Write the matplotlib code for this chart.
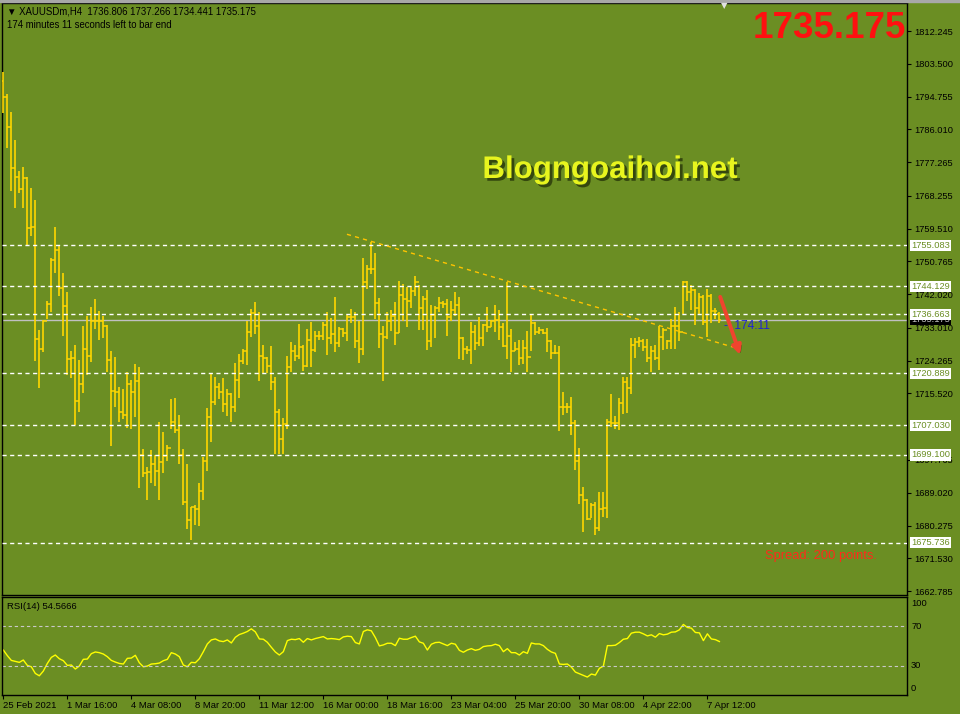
import matplotlib
matplotlib.use("Agg")
import matplotlib.pyplot as plt
import matplotlib.patheffects as pe
from matplotlib.patches import Rectangle
import numpy as np

plt.rcParams["font.family"] = ["Liberation Sans", "DejaVu Sans"]

# XAUUSDm H4 bars (25 Feb 2021 .. 7 Apr 2021)
highs = [
    1801.3, 1795.4, 1790.6, 1783.2, 1774.9, 1776.0, 1773.3, 1770.4, 1767.1, 1732.4,
    1735.1, 1740.2, 1751.7, 1759.9, 1755.0, 1747.6, 1742.6, 1726.9, 1728.4, 1724.4,
    1733.5, 1736.2, 1738.6, 1740.7, 1737.5, 1736.2, 1733.8, 1726.9, 1725.3, 1717.2,
    1716.7, 1721.2, 1719.1, 1723.4, 1722.6, 1700.7, 1696.0, 1700.4, 1699.2, 1708.0,
    1705.3, 1701.8, 1714.1, 1714.4, 1709.8, 1700.8, 1696.8, 1685.3, 1685.8, 1691.7,
    1698.6, 1711.7, 1720.8, 1720.0, 1718.4, 1719.6, 1716.8, 1715.7, 1723.7, 1726.1,
    1727.5, 1734.8, 1738.1, 1739.9, 1737.3, 1728.4, 1725.2, 1728.2, 1719.9, 1711.4,
    1708.9, 1725.5, 1729.2, 1728.4, 1734.0, 1728.4, 1732.7, 1734.6, 1732.2, 1732.2,
    1734.6, 1737.3, 1735.6, 1741.3, 1733.3, 1733.0, 1736.4, 1738.1, 1737.3, 1734.8,
    1751.7, 1749.8, 1755.9, 1753.0, 1741.0, 1733.5, 1737.3, 1737.8, 1739.9, 1745.5,
    1744.7, 1743.8, 1744.2, 1746.9, 1744.5, 1741.5, 1743.1, 1739.1, 1738.8, 1741.3,
    1740.2, 1740.7, 1740.2, 1742.6, 1741.3, 1730.5, 1728.2, 1734.6, 1733.8, 1735.9,
    1734.0, 1738.6, 1735.1, 1739.2, 1737.8, 1734.3, 1745.3, 1732.6, 1729.2, 1729.7,
    1729.8, 1732.1, 1736.7, 1734.6, 1733.2, 1732.6, 1732.9, 1729.8, 1728.4, 1728.2,
    1715.9, 1713.1, 1714.6, 1708.4, 1701.0, 1690.5, 1687.4, 1686.2, 1686.5, 1689.1,
    1689.3, 1708.7, 1715.4, 1709.6, 1714.4, 1719.9, 1720.0, 1730.2, 1730.3, 1730.5,
    1730.0, 1730.0, 1728.1, 1728.5, 1733.5, 1733.0, 1729.8, 1735.3, 1738.5, 1737.3,
    1745.5, 1745.5, 1744.5, 1743.4, 1742.3, 1741.7, 1743.3, 1742.1, 1738.2, 1737.266,
]
lows = [
    1790.3, 1781.1, 1769.6, 1765.1, 1769.1, 1765.1, 1755.1, 1757.6, 1724.3, 1717.0,
    1726.7, 1735.3, 1737.3, 1747.7, 1741.6, 1730.9, 1720.5, 1719.7, 1707.1, 1710.7,
    1715.6, 1720.4, 1724.0, 1732.8, 1729.9, 1730.4, 1721.3, 1701.6, 1712.0, 1708.0,
    1708.8, 1706.4, 1706.1, 1709.3, 1690.4, 1693.3, 1687.2, 1691.7, 1690.9, 1687.2,
    1694.4, 1697.6, 1706.1, 1705.0, 1696.8, 1685.7, 1679.4, 1676.5, 1680.5, 1680.2,
    1687.2, 1694.9, 1702.6, 1712.5, 1714.1, 1710.7, 1709.6, 1708.0, 1710.7, 1714.4,
    1723.5, 1723.2, 1730.7, 1731.5, 1718.9, 1720.9, 1720.9, 1716.5, 1699.4, 1699.4,
    1699.4, 1706.0, 1721.2, 1724.3, 1724.7, 1721.5, 1722.7, 1722.7, 1726.7, 1729.8,
    1729.8, 1725.8, 1728.7, 1726.6, 1727.8, 1730.7, 1729.5, 1734.2, 1727.7, 1723.7,
    1725.9, 1743.5, 1747.4, 1735.5, 1727.7, 1718.9, 1730.1, 1732.2, 1728.5, 1731.6,
    1734.9, 1733.3, 1738.3, 1741.5, 1732.4, 1732.4, 1727.1, 1727.8, 1730.3, 1737.3,
    1738.2, 1730.9, 1734.8, 1736.2, 1724.7, 1724.4, 1726.0, 1723.4, 1727.1, 1728.2,
    1728.2, 1731.9, 1733.2, 1732.0, 1729.8, 1727.8, 1724.8, 1721.3, 1726.8, 1723.1,
    1723.4, 1721.3, 1726.8, 1731.1, 1731.4, 1731.4, 1726.5, 1724.7, 1726.0, 1705.6,
    1709.8, 1710.4, 1704.5, 1695.2, 1686.1, 1678.5, 1681.7, 1682.4, 1677.8, 1678.9,
    1682.6, 1682.4, 1706.6, 1706.0, 1705.8, 1710.1, 1710.3, 1715.4, 1724.9, 1727.9,
    1726.9, 1724.0, 1721.3, 1724.4, 1721.8, 1727.2, 1727.3, 1727.3, 1727.5, 1729.4,
    1736.6, 1740.1, 1737.8, 1733.8, 1736.6, 1733.8, 1730.7, 1734.2, 1735.4, 1734.441,
]
closes = [
    1794.6, 1786.5, 1775.6, 1773.2, 1770.0, 1772.9, 1759.6, 1759.9, 1730.0, 1727.3,
    1734.8, 1739.3, 1751.1, 1753.7, 1743.6, 1738.8, 1724.6, 1725.1, 1713.4, 1718.0,
    1727.3, 1725.4, 1734.8, 1734.8, 1734.8, 1733.4, 1724.4, 1716.1, 1715.8, 1710.5,
    1709.7, 1718.0, 1715.8, 1718.8, 1699.2, 1694.4, 1694.5, 1696.6, 1694.9, 1697.1,
    1698.9, 1701.0, 1707.9, 1705.8, 1699.2, 1686.5, 1681.7, 1685.2, 1684.7, 1689.5,
    1697.5, 1709.2, 1713.2, 1717.2, 1715.9, 1712.7, 1715.4, 1711.9, 1719.2, 1724.1,
    1726.9, 1731.8, 1736.9, 1733.4, 1725.4, 1725.0, 1722.8, 1718.5, 1710.6, 1703.3,
    1707.3, 1722.6, 1726.8, 1725.4, 1727.8, 1722.8, 1729.8, 1727.1, 1730.9, 1730.8,
    1733.7, 1730.2, 1731.3, 1728.9, 1732.7, 1731.6, 1735.8, 1735.8, 1729.4, 1727.3,
    1745.2, 1748.6, 1748.8, 1739.6, 1731.3, 1730.5, 1734.8, 1736.2, 1731.6, 1741.7,
    1740.6, 1740.1, 1742.8, 1745.2, 1738.2, 1740.6, 1729.4, 1736.4, 1738.2, 1739.6,
    1739.3, 1735.8, 1737.7, 1739.0, 1730.2, 1727.3, 1727.0, 1731.8, 1728.9, 1730.2,
    1733.8, 1733.2, 1734.8, 1735.1, 1733.2, 1728.2, 1730.8, 1726.8, 1727.3, 1724.9,
    1727.6, 1725.2, 1734.2, 1731.9, 1732.5, 1731.6, 1729.5, 1726.3, 1726.3, 1711.9,
    1711.9, 1711.8, 1707.5, 1697.4, 1688.3, 1687.1, 1682.1, 1685.7, 1679.5, 1684.7,
    1684.9, 1708.0, 1707.7, 1707.5, 1712.9, 1718.5, 1716.9, 1728.4, 1729.2, 1729.4,
    1728.0, 1724.9, 1726.8, 1724.9, 1730.6, 1732.4, 1729.6, 1733.5, 1733.5, 1731.8,
    1745.3, 1742.5, 1743.1, 1738.3, 1741.2, 1734.6, 1741.5, 1737.4, 1737.4, 1735.175,
]
first_open = 1799.0
last_open = 1736.806

rsi = [
    45.9, 40.2, 35.3, 34.3, 33.3, 35.7, 30.2, 28.8, 22.0, 19.6,
    24.4, 32.2, 38.4, 40.8, 37.0, 35.0, 30.2, 30.6, 26.5, 29.6,
    36.4, 36.7, 42.2, 43.9, 43.2, 41.8, 39.1, 35.3, 33.6, 32.2,
    31.6, 37.4, 37.7, 40.5, 32.9, 28.8, 29.5, 31.6, 31.9, 32.6,
    35.0, 36.4, 43.2, 41.8, 39.1, 30.6, 28.8, 33.3, 32.9, 37.0,
    44.2, 52.1, 56.2, 57.2, 55.2, 54.5, 56.2, 53.1, 58.9, 61.7,
    63.1, 64.8, 67.5, 64.4, 57.2, 56.9, 53.8, 48.7, 43.9, 40.8,
    44.2, 55.5, 56.9, 56.5, 57.6, 53.8, 57.6, 56.2, 57.6, 58.6,
    59.6, 57.2, 57.6, 57.2, 56.5, 59.3, 60.0, 59.6, 53.5, 52.1,
    64.8, 66.5, 65.5, 58.6, 50.1, 51.1, 52.8, 52.8, 50.4, 57.9,
    56.9, 56.9, 58.6, 60.0, 54.2, 52.8, 45.9, 51.8, 53.5, 53.8,
    52.1, 50.4, 52.8, 51.8, 45.6, 43.6, 45.9, 47.3, 45.6, 46.6,
    49.4, 50.1, 50.4, 51.8, 50.4, 44.2, 47.3, 43.2, 43.2, 40.8,
    44.2, 42.5, 53.1, 52.1, 52.1, 50.4, 46.6, 43.9, 42.5, 31.6,
    31.2, 31.6, 28.5, 23.4, 21.7, 20.0, 18.3, 21.4, 20.3, 27.2,
    29.5, 50.4, 50.4, 50.8, 53.5, 56.9, 57.6, 63.1, 64.1, 64.1,
    62.4, 60.3, 61.4, 59.0, 62.7, 61.4, 62.1, 64.1, 64.4, 66.5,
    72.0, 68.9, 68.2, 63.8, 63.4, 55.5, 62.4, 57.2, 56.5, 54.57,
]

date_labels = ["25 Feb 2021", "1 Mar 16:00", "4 Mar 08:00", "8 Mar 20:00",
               "11 Mar 12:00", "16 Mar 00:00", "18 Mar 16:00", "23 Mar 04:00",
               "25 Mar 20:00", "30 Mar 08:00", "4 Apr 22:00", "7 Apr 12:00"]
# 1706.775 sits fully under the 1707.030 line label, so it is left out
price_ticks = [1812.245, 1803.500, 1794.755, 1786.010, 1777.265, 1768.255,
               1759.510, 1750.765, 1742.020, 1733.010, 1724.265, 1715.520,
               1697.765, 1689.020, 1680.275, 1671.530, 1662.785]
hlevels = [1755.083, 1744.129, 1736.663, 1720.889, 1707.030, 1699.100, 1675.736]
current = 1735.175

# user drawn objects (bar index, price)
trend_start, trend_end = (85.9, 1758.0), (182.4, 1727.9)
arrow_start, arrow_end = (179.2, 1741.3), (184.2, 1725.8)

BG = "#6B8E23"
BAR = "#FFD700"

idx = np.arange(len(closes))
# open of each H4 bar taken as the previous close
opens = [first_open] + closes[:-1]
opens[-1] = last_open

fig = plt.figure(figsize=(9.6, 7.14), dpi=100, facecolor=BG)
W, H = 960.0, 714.0
ax = fig.add_axes([2 / W, 1 - 595 / H, 905 / W, 592 / H], facecolor=BG)
ax2 = fig.add_axes([2 / W, 1 - 695 / H, 905 / W, 98 / H], facecolor=BG)

xlim = (-0.33, 225.9)

# price bars
ax.vlines(idx, lows, highs, color=BAR, lw=1.2, zorder=3)
ax.hlines(opens, idx - 0.5, idx, color=BAR, lw=1.1, zorder=3)
ax.hlines(closes, idx, idx + 0.5, color=BAR, lw=1.1, zorder=3)

for lv in hlevels:
    ax.axhline(lv, color="white", lw=1.0, ls=(0, (3, 2.5)), zorder=4)
ax.axhline(current, color="#C0C0C0", lw=1.0, zorder=2)

ax.plot([trend_start[0], trend_end[0]], [trend_start[1], trend_end[1]],
        color="#FFC400", lw=1.0, ls=(0, (3, 3)), zorder=4)

ax.annotate("", xy=arrow_end, xytext=arrow_start,
            arrowprops=dict(arrowstyle="-|>", color="#F0442E", lw=2.8,
                            mutation_scale=13, shrinkA=0, shrinkB=0,
                            path_effects=[pe.withSimplePatchShadow(offset=(1.5, -1.5), shadow_rgbFace="#2A3A08", alpha=0.6)]),
            zorder=6)
ax.text(180.2, 1733.5, "-  174:11", color="#1E22D8", fontsize=8.5, va="center", ha="left", zorder=6)

ax.set_xlim(*xlim)
ax.set_ylim(1661.73, 1819.72)
ax.set_xticks([])
ax.yaxis.tick_right()
ax.set_yticks(price_ticks)
ax.set_yticklabels([f"{t:.3f}" for t in price_ticks])
ax.tick_params(axis="y", direction="out", length=3, width=0.8, pad=2,
               labelsize=6.7, colors="black")
for s in ax.spines.values():
    s.set_color("black")
    s.set_linewidth(1.0)

# price labels of the lines on the right scale
yt = ax.get_yaxis_transform()
ax.text(1.0045, current, f"{current:.3f}", transform=yt, va="center", ha="left",
        fontsize=6.7, color="#C0C0C0", clip_on=False, zorder=7,
        bbox=dict(boxstyle="square,pad=0.12", fc="black", ec="none"))
for lv in hlevels:
    ax.text(1.0045, lv, f"{lv:.3f}", transform=yt, va="center", ha="left",
            fontsize=6.7, color=BG, clip_on=False, zorder=8,
            bbox=dict(boxstyle="square,pad=0.12", fc="white", ec="none"))

# RSI window
ax2.plot(idx, rsi, color="#FFFF00", lw=1.0)
for lv in (70, 30):
    ax2.axhline(lv, color="#C8C8C8", lw=0.8, ls=(0, (3, 2.5)))
ax2.set_xlim(*xlim)
ax2.set_ylim(0, 100)
ax2.set_yticks([])
ax2.set_xticks(idx[::16])
ax2.set_xticklabels(date_labels, ha="left", fontsize=6.8)
ax2.tick_params(axis="x", direction="out", length=3, width=0.8, pad=1.5, colors="black")
for s in ax2.spines.values():
    s.set_color("black")
    s.set_linewidth(1.0)
rt = ax2.get_yaxis_transform()
for val, yv in ((100, 93), (70, 70), (30, 30), (0, 7)):
    ax2.text(1.0045, yv, str(val), transform=rt, va="center", ha="left",
             fontsize=6.7, color="black", clip_on=False)
ax2.text(0.005, 0.9, "RSI(14) 54.5666", transform=ax2.transAxes, fontsize=6.8,
         va="center", ha="left", color="black")

# header texts
fig.patches.append(Rectangle((0, 1 - 2 / H), 1, 2 / H, transform=fig.transFigure,
                             color="#A8A8A8", zorder=0))
fig.text(7 / W, 1 - 12 / H, "\u25bc XAUUSDm,H4  1736.806 1737.266 1734.441 1735.175",
         fontsize=6.9, va="center", ha="left", color="black")
fig.text(7 / W, 1 - 25 / H, "174 minutes 11 seconds left to bar end",
         fontsize=6.9, va="center", ha="left", color="black")
fig.text(724 / W, 1 - 6 / H, "\u25bc", fontsize=6, va="center", ha="center",
         color="#E0E0E0", family=["DejaVu Sans"])
fig.text(906 / W, 1 - 28 / H, "1735.175", fontsize=26.5, fontweight="bold",
         va="center", ha="right", color="#FF1010")
fig.text(610 / W, 1 - 170 / H, "Blogngoaihoi.net", fontsize=22.5, fontweight="bold",
         va="center", ha="center", color="#E8F51E",
         path_effects=[pe.withSimplePatchShadow(offset=(2, -2), shadow_rgbFace="#1E2A06", alpha=0.7)])
fig.text(765 / W, 1 - 556 / H, "Spread: 200 points.", fontsize=9.3, va="center",
         ha="left", color="#FF2A1A")

fig.savefig("out.png", dpi=100, facecolor=BG)
